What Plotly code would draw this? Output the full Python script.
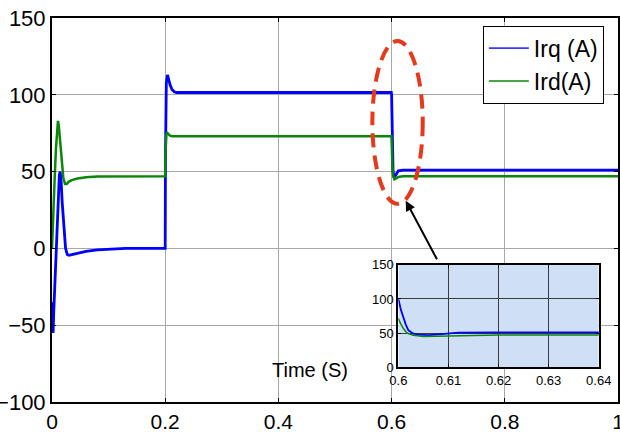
import plotly.graph_objects as go

# Rotor current components vs. time
t_irq = [0, 0.001, 0.002, 0.003, 0.005, 0.007, 0.009, 0.011, 0.013, 0.0145, 0.016,
         0.018, 0.021, 0.024, 0.027, 0.030, 0.035, 0.045, 0.06, 0.08, 0.10, 0.13,
         0.199, 0.2, 0.2005, 0.201, 0.202, 0.204, 0.206, 0.209, 0.212, 0.216, 0.22,
         0.23, 0.5995, 0.6, 0.6005, 0.601, 0.6015, 0.602, 0.6025, 0.603, 0.604,
         0.606, 0.608, 0.610, 0.612, 0.62, 1.0]
irq = [-35, -50, -55, -42, -22, -5, 20, 38, 48, 50, 45,
       30, 12, 0, -4, -4.5, -4, -3, -2, -1, -0.5, 0,
       0, 0, 60, 95, 108, 113, 110, 106, 103.5, 102, 101.5,
       101.5, 101.5, 100, 84, 71, 62, 54, 51, 49, 47.5,
       47, 48, 49.5, 50.5, 51, 51]

t_ird = [0, 0.001, 0.003, 0.005, 0.007, 0.009, 0.0105, 0.012, 0.014, 0.016, 0.018,
         0.020, 0.023, 0.026, 0.03, 0.035, 0.045, 0.06, 0.08, 0.12, 0.199, 0.2,
         0.2005, 0.201, 0.202, 0.203, 0.205, 0.208, 0.212, 0.22, 0.5995, 0.6,
         0.6005, 0.601, 0.6017, 0.603, 0.605, 0.608, 0.612, 0.62, 1.0]
ird = [0, 12, 30, 48, 65, 80, 83, 80, 72, 62, 52,
       46, 42, 42, 43.5, 44.5, 45.5, 46.3, 46.8, 47, 47, 47,
       62, 70, 74, 75.5, 74.5, 73.5, 73, 73, 73, 71,
       63, 56.6, 50, 46.7, 45, 45.5, 46.5, 47, 47]

main_xticks = [0, 0.2, 0.4, 0.6, 0.8, 1]
main_xlabels = ["0", "0.2", "0.4", "0.6", "0.8", "1"]
main_yticks = [-100, -50, 0, 50, 100, 150]
zoom_xticks = [0.6, 0.61, 0.62, 0.63, 0.64]
zoom_xlabels = ["0.6", "0.61", "0.62", "0.63", "0.64"]
zoom_yticks = [0, 50, 100, 150]

BLUE = "#0000ff"
GREEN = "#0a870a"
FONT = "Liberation Sans, Arial, sans-serif"

fig = go.Figure()

# main traces
fig.add_trace(go.Scatter(x=t_irq, y=irq, mode="lines", showlegend=False,
                         line=dict(color=BLUE, width=2.8), xaxis="x", yaxis="y"))
fig.add_trace(go.Scatter(x=t_ird, y=ird, mode="lines", showlegend=False,
                         line=dict(color=GREEN, width=2.5), xaxis="x", yaxis="y"))
# zoomed view around the 0.6 s step
fig.add_trace(go.Scatter(x=t_irq, y=irq, mode="lines", showlegend=False,
                         line=dict(color=BLUE, width=1.8), xaxis="x2", yaxis="y2"))
fig.add_trace(go.Scatter(x=t_ird, y=ird, mode="lines", showlegend=False,
                         line=dict(color=GREEN, width=1.5), xaxis="x2", yaxis="y2"))
# legend entries with thin line samples
fig.add_trace(go.Scatter(x=[None], y=[None], mode="lines", name="Irq (A)",
                         line=dict(color="#3a3aff", width=1.6)))
fig.add_trace(go.Scatter(x=[None], y=[None], mode="lines", name="Ird(A)",
                         line=dict(color=GREEN, width=1.5)))

fig.update_layout(
    width=620, height=432,
    margin=dict(l=52, r=2, t=18, b=30),
    paper_bgcolor="white", plot_bgcolor="rgba(0,0,0,0)",
    font=dict(family=FONT, color="black"),
    xaxis=dict(domain=[0, 1], range=[0, 1], tickvals=main_xticks, ticktext=main_xlabels,
               automargin=False, ticklabeloverflow="allow",
               showgrid=True, gridcolor="#a8a8a8", gridwidth=1, zeroline=False,
               showline=True, linecolor="black", linewidth=2, mirror="ticks",
               ticks="inside", ticklen=4, tickcolor="black",
               tickfont=dict(size=21, family=FONT, color="black")),
    yaxis=dict(domain=[0, 1], range=[-100, 150], tickvals=main_yticks,
               automargin=False, ticklabeloverflow="allow",
               showgrid=True, gridcolor="#a8a8a8", gridwidth=1, zeroline=False,
               showline=True, linecolor="black", linewidth=2, mirror="ticks",
               ticks="inside", ticklen=4, tickcolor="black",
               tickfont=dict(size=22, family=FONT, color="black")),
    xaxis2=dict(domain=[0.612, 0.966], range=[0.6, 0.64], anchor="y2",
                tickvals=zoom_xticks, ticktext=zoom_xlabels, automargin=False,
                showgrid=True, gridcolor="#3c3c3c", gridwidth=1, zeroline=False,
                showline=True, linecolor="black", linewidth=2, mirror="ticks",
                ticks="inside", ticklen=3, tickcolor="black",
                tickfont=dict(size=13, family=FONT, color="black")),
    yaxis2=dict(domain=[0.091, 0.357], range=[0, 150], anchor="x2",
                tickvals=zoom_yticks, automargin=False,
                showgrid=True, gridcolor="#3c3c3c", gridwidth=1, zeroline=False,
                showline=True, linecolor="black", linewidth=2, mirror="ticks",
                ticks="inside", ticklen=3, tickcolor="black",
                tickfont=dict(size=13, family=FONT, color="black")),
    legend=dict(x=0.975, y=0.98, xanchor="right", yanchor="top",
                bgcolor="white", bordercolor="black", borderwidth=1,
                font=dict(size=23, family=FONT, color="black"),
                itemwidth=40, tracegroupgap=0),
    showlegend=True,
)

# inset background, under the inset grid
fig.add_shape(type="rect", xref="x2", yref="y2", x0=0.6, x1=0.64, y0=0, y1=150,
              fillcolor="#cfe0f6", line=dict(width=0), layer="below")

# highlight around the 0.6 s transition
fig.add_shape(type="circle", xref="x", yref="y", x0=0.566, x1=0.655, y0=29, y1=135,
              line=dict(color="#e5391b", width=4, dash="14px,8px"))

fig.add_annotation(x=0.625, y=31, xref="x", yref="y", ax=32, ay=60,
                   showarrow=True, arrowhead=2, arrowsize=1, arrowwidth=2,
                   arrowcolor="black", text="")

fig.add_annotation(x=0.456, y=-79, xref="x", yref="y", text="Time (S)",
                   showarrow=False, font=dict(size=20, family=FONT, color="black"))

fig.write_html("out.html")
